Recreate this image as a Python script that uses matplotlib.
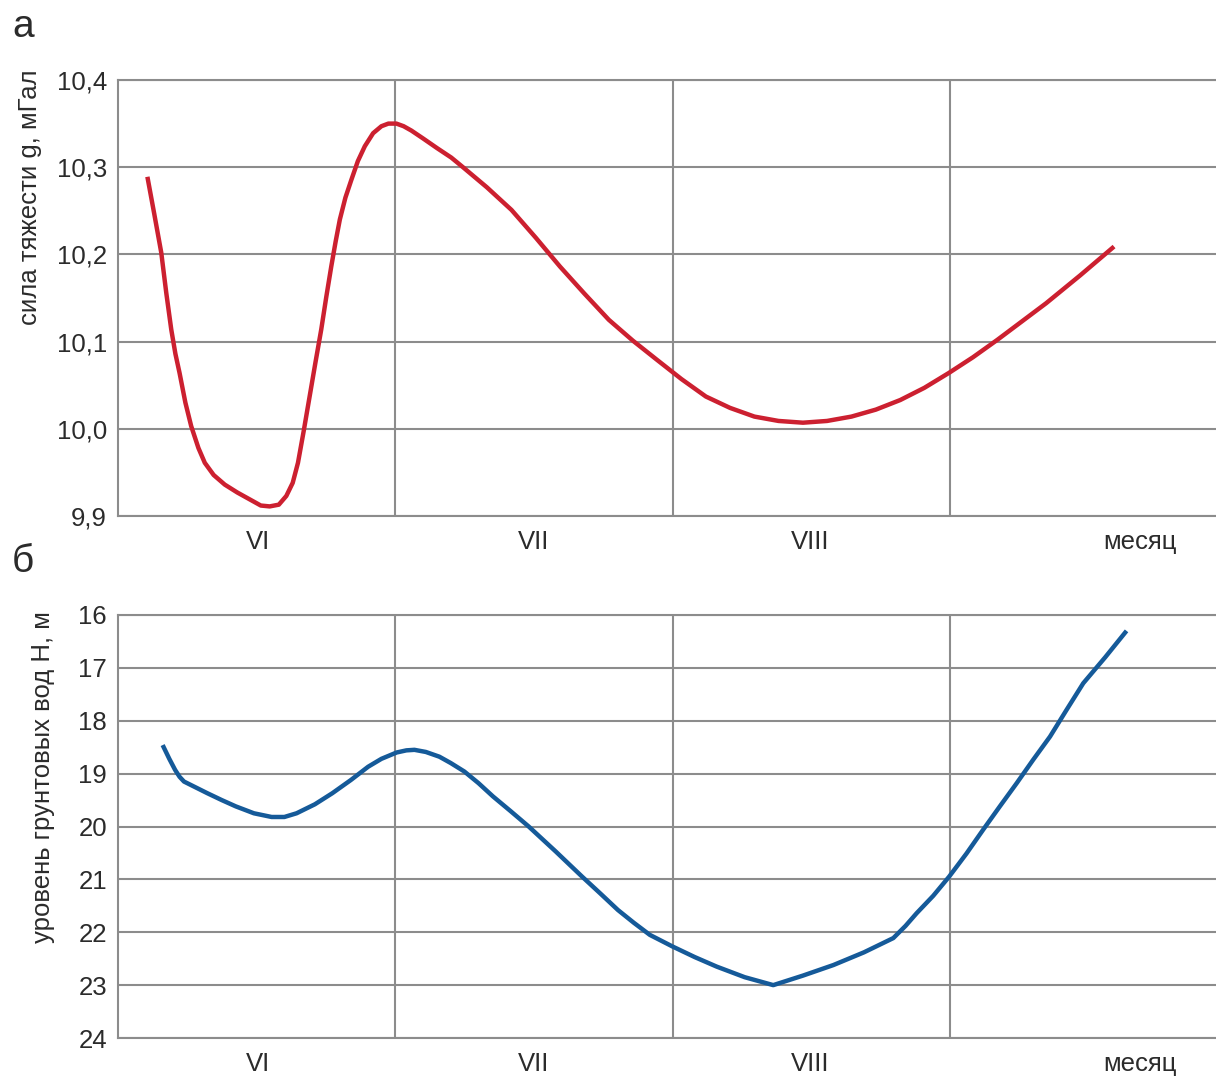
import matplotlib
matplotlib.use('Agg')
import matplotlib.pyplot as plt

plt.rcParams['font.family'] = ['Liberation Sans', 'DejaVu Sans']

# x in months, 0 = left edge of plot, grid lines at month borders 1, 2, 3
g_x = [0.106, 0.131, 0.156, 0.174, 0.192, 0.207, 0.222, 0.243, 0.264, 0.290,
       0.313, 0.345, 0.385, 0.430, 0.481, 0.515, 0.547, 0.580, 0.607, 0.630,
       0.649, 0.670, 0.691, 0.712, 0.733, 0.751, 0.769, 0.785, 0.800, 0.820,
       0.841, 0.865, 0.890, 0.920, 0.950, 0.975, 1.004, 1.030, 1.058, 1.100,
       1.150, 1.202, 1.244, 1.330, 1.419, 1.507, 1.594, 1.682, 1.770, 1.857,
       1.944, 2.032, 2.120, 2.207, 2.295, 2.382, 2.470, 2.557, 2.645, 2.733,
       2.821, 2.908, 2.996, 3.083, 3.171, 3.259, 3.347, 3.470, 3.592]
g_val = [10.289, 10.246, 10.202, 10.156, 10.114, 10.086, 10.064, 10.030, 10.003, 9.978,
         9.961, 9.947, 9.936, 9.927, 9.918, 9.912, 9.911, 9.913, 9.923, 9.938,
         9.961, 9.998, 10.037, 10.076, 10.114, 10.151, 10.186, 10.215, 10.240, 10.265,
         10.285, 10.307, 10.324, 10.339, 10.347, 10.350, 10.350, 10.347, 10.342, 10.333,
         10.322, 10.311, 10.300, 10.277, 10.251, 10.219, 10.186, 10.155, 10.125, 10.101,
         10.079, 10.057, 10.037, 10.024, 10.014, 10.009, 10.007, 10.009, 10.014, 10.022,
         10.033, 10.047, 10.064, 10.082, 10.102, 10.123, 10.144, 10.176, 10.209]

h_x = [0.161, 0.185, 0.206, 0.222, 0.238, 0.280, 0.322, 0.374, 0.425, 0.490,
       0.554, 0.600, 0.644, 0.710, 0.773, 0.840, 0.902, 0.950, 1.005, 1.040,
       1.069, 1.110, 1.159, 1.200, 1.249, 1.300, 1.352, 1.416, 1.481, 1.578,
       1.674, 1.740, 1.803, 1.860, 1.918, 2.000, 2.080, 2.159, 2.260, 2.363,
       2.470, 2.580, 2.690, 2.796, 2.840, 2.880, 2.940, 2.997, 3.060, 3.120,
       3.180, 3.241, 3.300, 3.361, 3.420, 3.481, 3.560, 3.637]
h_val = [18.46, 18.72, 18.93, 19.06, 19.15, 19.26, 19.37, 19.50, 19.62, 19.75,
         19.82, 19.82, 19.75, 19.58, 19.37, 19.12, 18.87, 18.72, 18.60, 18.56,
         18.55, 18.59, 18.68, 18.80, 18.96, 19.18, 19.43, 19.71, 20.00, 20.47,
         20.95, 21.27, 21.58, 21.82, 22.05, 22.27, 22.47, 22.65, 22.85, 23.00,
         22.82, 22.62, 22.38, 22.11, 21.88, 21.64, 21.31, 20.95, 20.51, 20.06,
         19.62, 19.18, 18.74, 18.30, 17.80, 17.29, 16.80, 16.30]

month_pos = [0.505, 1.5, 2.495, 3.685]
month_labels = ['VI', 'VII', 'VIII', 'месяц']

g_ticks = [9.9, 10.0, 10.1, 10.2, 10.3, 10.4]
g_ticklabels = ['9,9', '10,0', '10,1', '10,2', '10,3', '10,4']
h_ticks = [16, 17, 18, 19, 20, 21, 22, 23, 24]

W, H = 1216, 1077
fig = plt.figure(figsize=(W / 100, H / 100), dpi=100)
gridc = '#8c8c8c'
textc = '#2b2b2b'
fs = 18.5
x_max = (W - 118) / 277.3


def setup(ax):
    ax.set_xlim(0, x_max)
    ax.set_xticks([1, 2, 3])
    ax.set_xticklabels([])
    ax.set_xticks(month_pos, minor=True)
    ax.set_xticklabels(month_labels, minor=True)
    ax.tick_params(axis='x', which='both', length=0, pad=10, labelsize=fs, labelcolor=textc)
    ax.tick_params(axis='y', length=0, pad=8, labelsize=fs, labelcolor=textc)
    ax.grid(True, which='major', color=gridc, linewidth=1.5)
    for s in ['left', 'bottom', 'top']:
        ax.spines[s].set_color(gridc)
        ax.spines[s].set_linewidth(1.5)
    ax.spines['right'].set_visible(False)
    ax.set_axisbelow(True)


ax1 = fig.add_axes([118 / W, 1 - 516 / H, 1 - 118 / W, 436 / H])
setup(ax1)
ax1.set_ylim(9.9, 10.4)
ax1.set_yticks(g_ticks)
ax1.set_yticklabels(g_ticklabels)
ax1.plot(g_x, g_val, color='#cc2030', linewidth=3.2, solid_capstyle='butt', solid_joinstyle='round')
ax1.text(-0.0801, 0.73, 'сила тяжести g, мГал', transform=ax1.transAxes, rotation=90,
         ha='center', va='center', fontsize=fs, color=textc)

ax2 = fig.add_axes([118 / W, 1 - 1038 / H, 1 - 118 / W, 423 / H])
setup(ax2)
ax2.set_ylim(24, 16)
ax2.set_yticks(h_ticks)
ax2.plot(h_x, h_val, color='#155a99', linewidth=3.2, solid_capstyle='butt', solid_joinstyle='round')
ax2.text(-0.0683, 0.617, 'уровень грунтовых вод Н, м', transform=ax2.transAxes, rotation=90,
         ha='center', va='center', fontsize=fs, color=textc)

fig.text(23 / W, 1 - 27 / H, 'а', ha='center', va='center', fontsize=28, color=textc)
fig.text(23 / W, 1 - 562 / H, 'б', ha='center', va='center', fontsize=28, color=textc)

fig.savefig('out.png', dpi=100)
